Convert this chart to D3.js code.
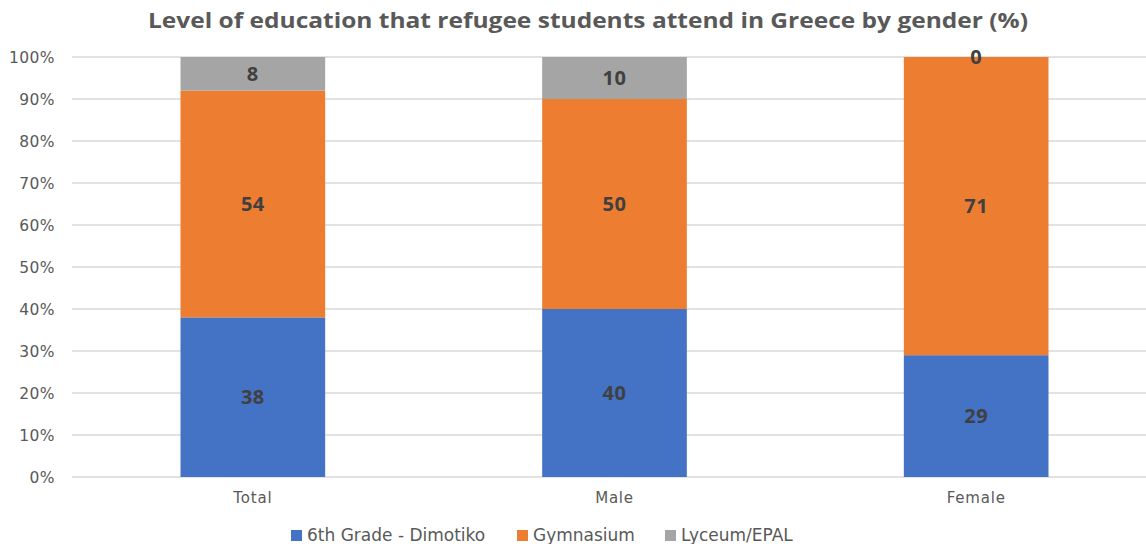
<!DOCTYPE html>
<html>
<head>
<meta charset="utf-8">
<script src="https://cdn.jsdelivr.net/npm/d3@7/dist/d3.min.js"></script>
<style>
  html, body { margin: 0; padding: 0; background: #fff; }
  svg { display: block; }
</style>
</head>
<body>
<svg id="chart" width="1146" height="544"></svg>
<script>
// Chart data
const categories = ["Total", "Male", "Female"];
const seriesNames = ["6th Grade - Dimotiko", "Gymnasium", "Lyceum/EPAL"];
const dimotiko = [38, 40, 29];
const gymnasium = [54, 50, 71];
const lyceum = [8, 10, 0];
const yTicks = [0, 10, 20, 30, 40, 50, 60, 70, 80, 90, 100];
const colors = ["#4472C4", "#ED7D31", "#A5A5A5"];

const rows = categories.map((c, i) => ({
  cat: c,
  [seriesNames[0]]: dimotiko[i],
  [seriesNames[1]]: gymnasium[i],
  [seriesNames[2]]: lyceum[i]
}));

const svg = d3.select("#chart");
const W = 1146, H = 544;
const plot = { left: 72, right: 1157, top: 57, bottom: 477 };

const x = d3.scaleBand().domain(categories).range([plot.left, plot.right]).padding(0);
const barW = x.step() * 0.4;
const y = d3.scaleLinear().domain([0, 100]).range([plot.bottom, plot.top]);

// Title
svg.append("text")
  .attr("x", 588).attr("y", 28)
  .attr("text-anchor", "middle")
  .attr("font-family", "'Open Sans', sans-serif")
  .attr("font-weight", "bold")
  .attr("font-size", 20.5)
  .attr("fill", "#595959")
  .attr("textLength", 880)
  .attr("lengthAdjust", "spacingAndGlyphs")
  .text("Level of education that refugee students attend in Greece by gender (%)");

// Gridlines
svg.append("g")
  .selectAll("line")
  .data(yTicks)
  .join("line")
  .attr("x1", plot.left).attr("x2", W)
  .attr("y1", d => y(d)).attr("y2", d => y(d))
  .attr("stroke", "#D9D9D9")
  .attr("stroke-width", 1.5);

// Y axis labels
const yAxis = d3.axisLeft(y).tickValues(yTicks).tickFormat(d => d + "%").tickSize(0).tickPadding(0);
const yg = svg.append("g").attr("transform", `translate(55,0)`).call(yAxis);
yg.select(".domain").remove();
yg.selectAll("text")
  .attr("font-family", "'DejaVu Sans', sans-serif")
  .attr("font-size", 15.5)
  .attr("letter-spacing", 0.4)
  .attr("fill", "#595959")
  .attr("dy", "0.35em");

// Stacked bars
const stack = d3.stack().keys(seriesNames);
const layers = stack(rows);

const g = svg.append("g");
layers.forEach((layer, li) => {
  g.append("g")
    .selectAll("rect")
    .data(layer)
    .join("rect")
    .attr("x", d => x(d.data.cat) + (x.step() - barW) / 2)
    .attr("width", barW)
    .attr("y", d => y(d[1]))
    .attr("height", d => y(d[0]) - y(d[1]))
    .attr("fill", colors[li]);
});

// Data labels
layers.forEach((layer, li) => {
  g.append("g")
    .selectAll("text")
    .data(layer)
    .join("text")
    .attr("x", d => x(d.data.cat) + x.step() / 2)
    .attr("y", d => (y(d[0]) + y(d[1])) / 2)
    .attr("dy", "0.35em")
    .attr("text-anchor", "middle")
    .attr("font-family", "'Open Sans', sans-serif")
    .attr("font-weight", "bold")
    .attr("font-size", 20)
    .attr("letter-spacing", 0.5)
    .attr("fill", "#404040")
    .text(d => d.data[layer.key]);
});

// Category labels
const xAxis = d3.axisBottom(x).tickSize(0).tickPadding(0);
const xg = svg.append("g").attr("transform", `translate(0,${plot.bottom + 21})`).call(xAxis);
xg.select(".domain").remove();
xg.selectAll("text")
  .attr("font-family", "'DejaVu Sans', sans-serif")
  .attr("font-size", 15)
  .attr("letter-spacing", 0.8)
  .attr("fill", "#595959")
  .attr("dy", "0.35em");

// Legend
const legendX = [291, 517, 665];
const legend = svg.append("g");
seriesNames.forEach((name, i) => {
  legend.append("rect")
    .attr("x", legendX[i]).attr("y", 530)
    .attr("width", 11).attr("height", 11)
    .attr("fill", colors[i]);
  legend.append("text")
    .attr("x", legendX[i] + 16).attr("y", 535.5)
    .attr("dy", "0.35em")
    .attr("font-family", "'DejaVu Sans', sans-serif")
    .attr("font-size", 17)
    .attr("letter-spacing", 0)
    .attr("fill", "#595959")
    .text(name);
});
</script>
</body>
</html>
